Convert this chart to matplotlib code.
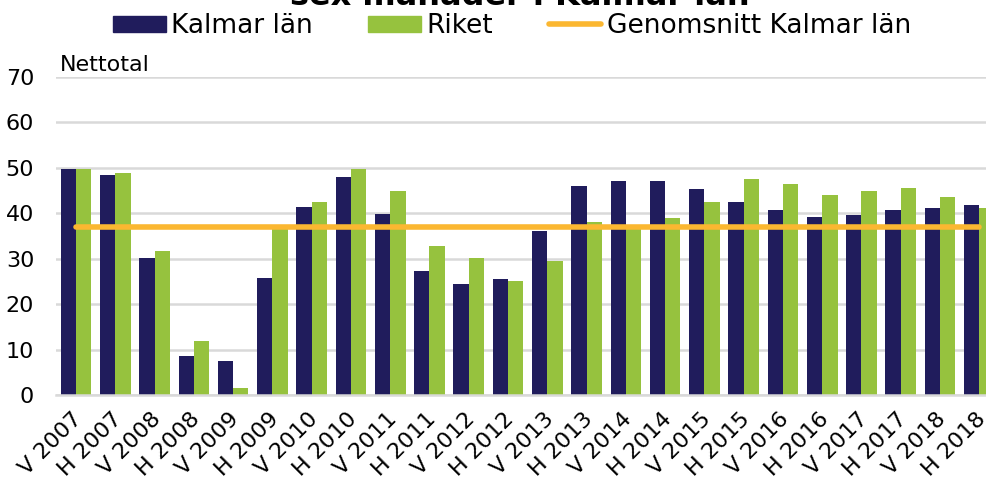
import matplotlib
matplotlib.use("Agg")
import matplotlib.pyplot as plt
import matplotlib.transforms as mtransforms
import numpy as np
from matplotlib.patches import Patch
from matplotlib.lines import Line2D

plt.rcParams['font.family'] = ['DejaVu Sans']

categories = ["V 2007", "H 2007", "V 2008", "H 2008", "V 2009", "H 2009",
              "V 2010", "H 2010", "V 2011", "H 2011", "V 2012", "H 2012",
              "V 2013", "H 2013", "V 2014", "H 2014", "V 2015", "H 2015",
              "V 2016", "H 2016", "V 2017", "H 2017", "V 2018", "H 2018"]
kalmar = [49.7, 48.5, 30.1, 8.7, 7.5, 25.8, 41.5, 47.9, 39.9, 27.2, 24.4, 25.5,
          36.0, 46.0, 47.1, 47.1, 45.4, 42.6, 40.8, 39.2, 39.6, 40.7, 41.2, 41.8]
riket = [49.8, 48.8, 31.6, 11.8, 1.6, 36.8, 42.4, 49.7, 45.0, 32.7, 30.2, 25.1,
         29.4, 38.1, 36.8, 38.9, 42.4, 47.6, 46.5, 44.0, 45.0, 45.5, 43.7, 41.2]
genomsnitt = 36.9
yticks = [0, 10, 20, 30, 40, 50, 60, 70]

navy = "#201c5c"
green = "#96c23e"
orange = "#fbb731"

fig = plt.figure(figsize=(9.87, 4.80), dpi=100)
ax = fig.add_axes([0.0571, 0.177, 0.955, 0.6625])

x = np.arange(len(categories))
w = 0.39
ax.bar(x - w / 2, kalmar, width=w, color=navy, zorder=2)
ax.bar(x + w / 2, riket, width=w, color=green, zorder=2)
ax.plot([x[0], x[-1]], [genomsnitt, genomsnitt], color=orange, lw=4,
        solid_capstyle='round', zorder=3)

ax.set_xlim(-0.5, len(categories) - 0.5)
ax.set_ylim(0, 70)
ax.set_yticks(yticks)
ax.set_yticklabels([str(v) for v in yticks], fontsize=16)
ax.yaxis.grid(True, color="#d9d9d9", lw=1.8, zorder=0)
ax.set_axisbelow(True)
for s in ["top", "right", "left"]:
    ax.spines[s].set_visible(False)
ax.spines["bottom"].set_color("#d9d9d9")
ax.spines["bottom"].set_linewidth(1.8)
ax.tick_params(axis='both', length=0)
ax.tick_params(axis='y', pad=16)
ax.set_xticks(x)
ax.set_xticklabels(categories, rotation=45, ha='right', va='top',
                   rotation_mode='anchor', fontsize=16)
ax.tick_params(axis='x', pad=10)
offset = mtransforms.ScaledTranslation(-4 / 100, 0, fig.dpi_scale_trans)
for lbl in ax.get_xticklabels():
    lbl.set_transform(lbl.get_transform() + offset)

fig.text(60 / 987, 1 - 71 / 480, "Nettotal", fontsize=16, va='baseline', ha='left')
fig.text(520 / 987, 1 - 5 / 480, "sex månader i Kalmar län", fontsize=23,
         fontweight='bold', ha='center', va='baseline')

handles = [Patch(color=navy), Patch(color=green),
           Line2D([0], [0], color=orange, lw=4, solid_capstyle='round')]
labels = ["Kalmar län", "Riket", "Genomsnitt Kalmar län"]
fig.legend(handles, labels, loc='center', bbox_to_anchor=(512 / 987, 1 - 26 / 480),
           ncol=3, frameon=False, fontsize=19, handlelength=2.0, handleheight=0.55,
           handletextpad=0.2, columnspacing=2.1, borderaxespad=0, borderpad=0)

fig.savefig("out.png", dpi=100)
